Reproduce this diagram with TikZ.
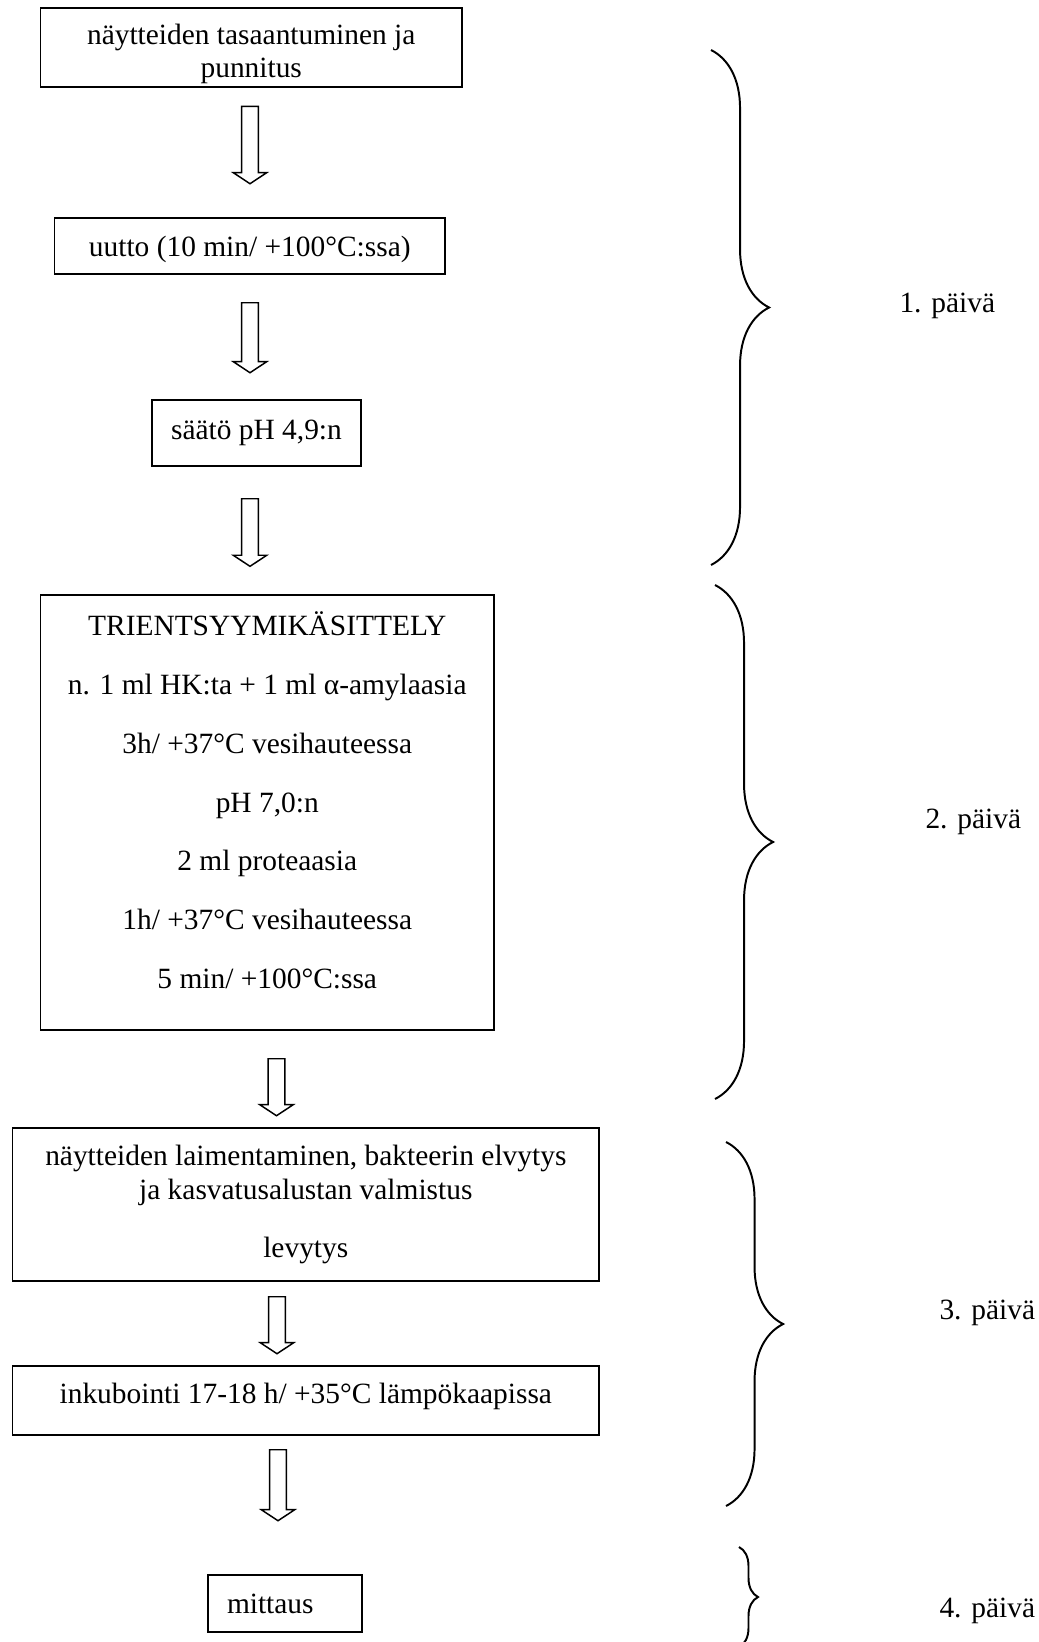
\documentclass[tikz,border=0pt]{standalone}
\usepackage{fontspec}
\setmainfont{Liberation Serif}
\usepackage{tikz}
\usetikzlibrary{shapes.arrows,decorations.pathreplacing}

% 1 px of the original sheet
\newcommand{\px}{0.408pt}

\begin{document}
\begin{tikzpicture}[x=\px, y=\px,
	font=\fontsize{12pt}{13.8pt}\selectfont,
	vaihe/.style={draw, line width=0.7pt, align=center, inner sep=0pt},
	nuoli/.style={single arrow, draw, line width=0.6pt, shape border rotate=270,
		minimum width=13.06pt, single arrow head extend=3.37pt,
		single arrow tip angle=113, inner sep=3.16pt, anchor=tail},
	sulku/.style={draw, line width=0.8pt, decorate, decoration={brace, amplitude=#1}},
	paiva/.style={anchor=base west, inner sep=0pt}]

\useasboundingbox (0,0) rectangle (1039,-1642);
\clip (0,0) rectangle (1039,-1642);

% 1. paiva
\node[vaihe, minimum width=421.5*\px, minimum height=79*\px] (tasaantuminen) at (251.25,-47.5)
	{\rule{0pt}{13.5pt}näytteiden tasaantuminen ja\\punnitus};
\node[nuoli, minimum height=77.3*\px] (n1) at (250,-105.7) {};

\node[vaihe, minimum width=390.5*\px, minimum height=56*\px] (uutto) at (249.75,-246)
	{\rule{0pt}{11pt}uutto (10 min/ +100°C:ssa)};
\node[nuoli, minimum height=70*\px] (n2) at (250,-302) {};

\node[vaihe, minimum width=209*\px, minimum height=66*\px] (saato) at (256.5,-433)
	{säätö pH 4,9:n};
\node[nuoli, minimum height=67.6*\px] (n3) at (250,-498) {};

\draw[sulku=23.7pt] (711,-50) -- (711,-565);
\node[paiva] (p1) at (899,-312) {1. päivä};

% 2. paiva
\node[vaihe, minimum width=453.5*\px, minimum height=435*\px] (entsyymi) at (267.25,-812.5)
	{TRIENTSYYMIKÄSITTELY\\[10.2pt]
	n. 1 ml HK:ta + 1 ml α-amylaasia\\[10.2pt]
	3h/ +37°C vesihauteessa\\[10.2pt]
	pH 7,0:n\\[10.2pt]
	2 ml proteaasia\\[10.2pt]
	1h/ +37°C vesihauteessa\\[10.2pt]
	5 min/ +100°C:ssa\rule[-10pt]{0pt}{10pt}};
\node[nuoli, minimum height=57*\px] (n4) at (276.5,-1058) {};

\draw[sulku=23.7pt] (715,-585) -- (715,-1099);
\node[paiva] (p2) at (925,-828) {2. päivä};

% 3. paiva
\node[vaihe, minimum width=586.4*\px, minimum height=153*\px] (laimennus) at (305.8,-1204.5)
	{näytteiden laimentaminen, bakteerin elvytys\\ja kasvatusalustan valmistus\\[10pt]levytys};
\node[nuoli, minimum height=57*\px] (n5) at (277,-1296) {};

\node[vaihe, minimum width=586.4*\px, minimum height=69*\px] (inkubointi) at (305.8,-1400.5)
	{inkubointi 17-18 h/ +35°C lämpökaapissa\rule[-6pt]{0pt}{6pt}};
\node[nuoli, minimum height=71*\px] (n6) at (278,-1449) {};

\draw[sulku=23.3pt] (726,-1142) -- (726,-1506);
\node[paiva] (p3) at (939,-1319) {3. päivä};

% 4. paiva
\node[vaihe, minimum width=154*\px, minimum height=57*\px, text width=116*\px, align=left]
	(mittaus) at (285,-1603.5) {mittaus};

\draw[sulku=7.75pt] (739,-1547) -- (739,-1647);
\node[paiva] (p4) at (939,-1617) {4. päivä};

\end{tikzpicture}
\end{document}
